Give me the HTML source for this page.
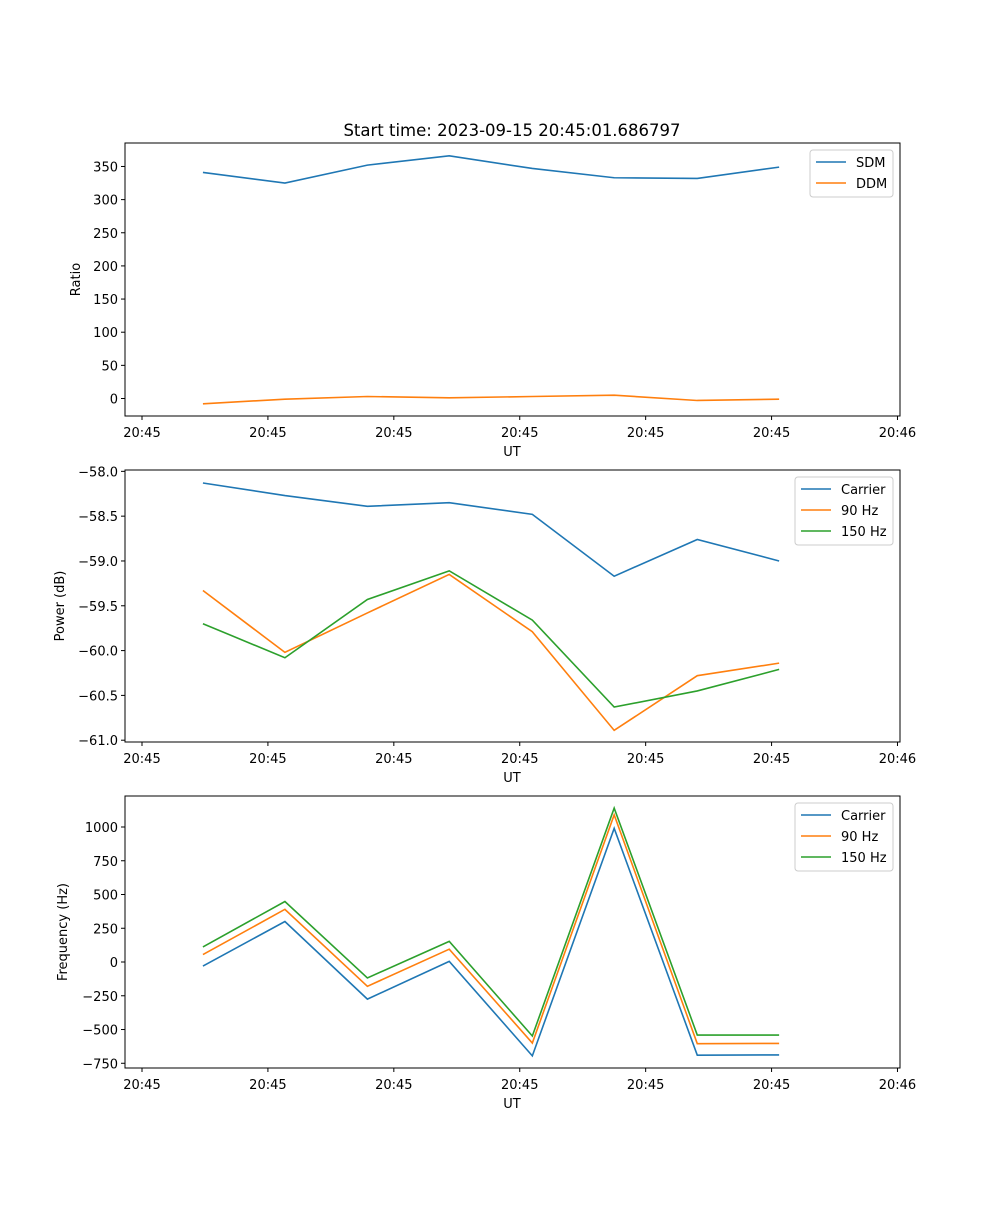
<!DOCTYPE html>
<html><head><meta charset="utf-8"><style>
body{margin:0;background:#fff}
svg{font-family:"DejaVu Sans","Liberation Sans",sans-serif;font-size:13px}
</style></head><body>
<svg id="fig" width="1000" height="1200" xmlns="http://www.w3.org/2000/svg">
<rect width="1000" height="1200" fill="#fff"/>
<text x="512" y="136" text-anchor="middle" font-size="16.5">Start time: 2023-09-15 20:45:01.686797</text>
</svg>
<script>
const times=[4.84,11.35,17.9,24.4,31.0,37.5,44.1,50.6];
const xTicks=[0,10,20,30,40,50,60];
const xTickLabels=["20:45","20:45","20:45","20:45","20:45","20:45","20:46"];
const sdm=[341,325,352,366,347,333,332,349];
const ddm=[-8,-1,3,1,3,5,-3,-1];
const pwrCarrier=[-58.13,-58.27,-58.39,-58.35,-58.48,-59.17,-58.76,-59.0];
const pwr90=[-59.33,-60.02,-59.58,-59.15,-59.79,-60.89,-60.28,-60.14];
const pwr150=[-59.70,-60.08,-59.43,-59.11,-59.66,-60.63,-60.45,-60.21];
const frqCarrier=[-30,300,-275,5,-695,990,-690,-688];
const frq90=[55,390,-180,95,-600,1090,-605,-603];
const frq150=[112,448,-118,153,-548,1140,-541,-541];
const yTicks1=[0,50,100,150,200,250,300,350];
const yTicks2=[-61,-60.5,-60,-59.5,-59,-58.5,-58];
const yTicks3=[-750,-500,-250,0,250,500,750,1000];
const C=["#1f77b4","#ff7f0e","#2ca02c"];
const svg=document.getElementById('fig');
const NS="http://www.w3.org/2000/svg";
function mk(t,a,p){const e=document.createElementNS(NS,t);for(const k in a)e.setAttribute(k,a[k]);(p||svg).appendChild(e);return e;}
const L=125,R=900,xmin=-1.35,xmax=60.2;
const X=v=>L+(v-xmin)/(xmax-xmin)*(R-L);
const mf=s=>s.replace('-','\u2212');
function panel(name,top,bot,ymin,ymax,ticks,fmt,ylabel,ylx,series,labels,leg){
  const Y=v=>bot-(v-ymin)/(ymax-ymin)*(bot-top);
  const g=mk('g',{});
  
  
  series.forEach((s,i)=>{
    const p=mk('polyline',{points:s.map((v,j)=>X(times[j])+','+Y(v)).join(' '),fill:'none',stroke:C[i],'stroke-width':1.6},g);
    
    
  });
  mk('rect',{x:L,y:top,width:R-L,height:bot-top,fill:'none',stroke:'#000','stroke-width':1},g);
  xTicks.forEach((t,i)=>{const x=X(t);mk('line',{x1:x,x2:x,y1:bot,y2:bot+4,stroke:'#000'},g);
    const tx=mk('text',{x:x,y:bot+21,'text-anchor':'middle'},g);tx.textContent=xTickLabels[i];
    });
  ticks.forEach(t=>{const y=Y(t);mk('line',{x1:L-4,x2:L,y1:y,y2:y,stroke:'#000'},g);
    const tx=mk('text',{x:L-7,y:y+5,'text-anchor':'end'},g);tx.textContent=mf(fmt(t));
    });
  const xl=mk('text',{x:512,y:bot+40,'text-anchor':'middle'},g);xl.textContent='UT';
  
  const yl=mk('text',{x:ylx,y:(top+bot)/2,'text-anchor':'middle',transform:`rotate(-90 ${ylx} ${(top+bot)/2})`},g);yl.textContent=ylabel;
  
  const lg=mk('g',{},g);
  
  mk('rect',{x:leg[0],y:top+7,width:893-leg[0],height:labels.length*21+5,rx:3,fill:'#fff',stroke:'#ccc'},lg);
  labels.forEach((lb,i)=>{const y=top+19+i*21;
    mk('line',{x1:leg[0]+6,x2:leg[0]+36,y1:y,y2:y,stroke:C[i],'stroke-width':1.6},lg);
    const t=mk('text',{x:leg[0]+46,y:y+5},lg);t.textContent=lb;
    });
}
panel('ratio-panel',143,416,-26.4,385.4,yTicks1,v=>String(v),'Ratio',80,[sdm,ddm],['SDM','DDM'],[810]);
panel('power-panel',470,742,-61.02,-57.985,yTicks2,v=>v.toFixed(1),'Power (dB)',64,[pwrCarrier,pwr90,pwr150],['Carrier','90 Hz','150 Hz'],[795]);
panel('frequency-panel',796,1068,-785,1229.6,yTicks3,v=>String(v),'Frequency (Hz)',67,[frqCarrier,frq90,frq150],['Carrier','90 Hz','150 Hz'],[795]);
</script>
</body></html>
